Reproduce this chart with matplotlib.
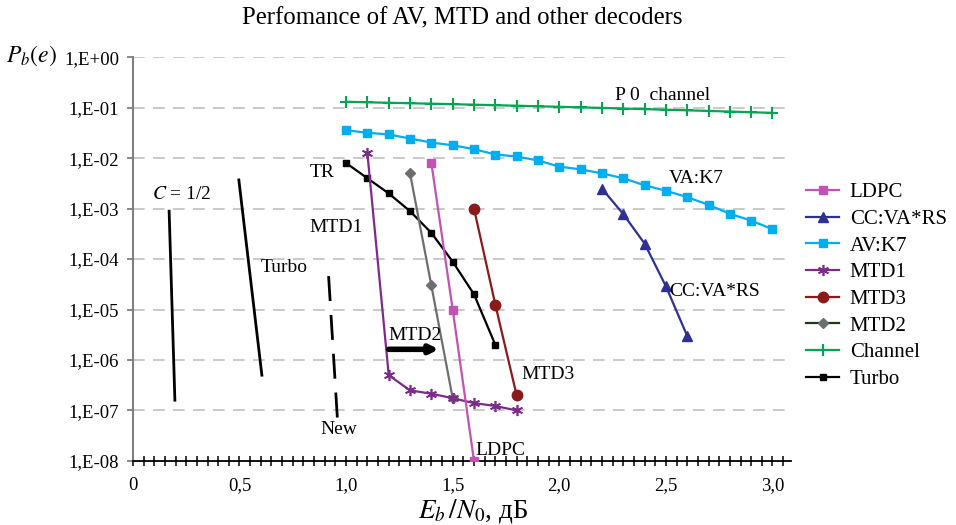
import numpy as np
import matplotlib
matplotlib.use('Agg')
import matplotlib.pyplot as plt
from matplotlib.lines import Line2D
from matplotlib.ticker import MultipleLocator, FixedLocator

#------------------------------------------------------------------------------------
# Dados das curvas (Eb/N0 em dB, probabilidade de erro de bit)
#------------------------------------------------------------------------------------
ebn0_full = [1.0, 1.1, 1.2, 1.3, 1.4, 1.5, 1.6, 1.7, 1.8, 1.9, 2.0,
             2.1, 2.2, 2.3, 2.4, 2.5, 2.6, 2.7, 2.8, 2.9, 3.0]
pb_channel = [0.131, 0.128, 0.125, 0.1226, 0.120, 0.1174, 0.1147, 0.112, 0.1094, 0.1067, 0.104,
              0.1015, 0.0989, 0.0963, 0.0937, 0.0912, 0.0887, 0.0862, 0.0838, 0.0813, 0.0789]
pb_av_k7 = [0.0358, 0.0318, 0.0295, 0.0245, 0.0204, 0.018, 0.0151, 0.0118, 0.0108, 0.009, 0.0068,
            0.006, 0.005, 0.004, 0.0029, 0.00226, 0.00169, 0.00119, 0.00079, 0.00058, 0.00039]

ebn0_cc = [2.2, 2.3, 2.4, 2.5, 2.6]
pb_cc = [2.5e-3, 7.8e-4, 2.03e-4, 2.9e-5, 3.0e-6]

ebn0_mtd3 = [1.6, 1.7, 1.8]
pb_mtd3 = [1.0e-3, 1.25e-5, 2.0e-7]

ebn0_mtd2 = [1.3, 1.4, 1.5]
pb_mtd2 = [5.0e-3, 3.0e-5, 1.75e-7]

ebn0_mtd1 = [1.1, 1.2, 1.3, 1.4, 1.5, 1.6, 1.7, 1.8]
pb_mtd1 = [1.24e-2, 5.0e-7, 2.5e-7, 2.15e-7, 1.75e-7, 1.4e-7, 1.23e-7, 1.0e-7]

ebn0_ldpc = [1.4, 1.5, 1.6]
pb_ldpc = [8.0e-3, 1.0e-5, 1.0e-8]

ebn0_turbo = [1.0, 1.1, 1.2, 1.3, 1.4, 1.5, 1.6, 1.7]
pb_turbo = [8.0e-3, 4.0e-3, 2.0e-3, 8.9e-4, 3.3e-4, 8.9e-5, 2.0e-5, 2.0e-6]

# Limites teoricos (retas sem marcadores)
ebn0_limit = [0.17, 0.197]
pb_limit = [8.9e-4, 1.6e-7]
ebn0_turbo_lim = [0.497, 0.605]
pb_turbo_lim = [3.7e-3, 5.0e-7]
ebn0_new = [0.918, 0.959]
pb_new = [4.6e-5, 7.2e-8]

xtick_vals = [0, 0.5, 1.0, 1.5, 2.0, 2.5, 3.0]
xtick_labels = ['0', '0,5', '1,0', '1,5', '2,0', '2,5', '3,0']
ytick_vals = [1e-8, 1e-7, 1e-6, 1e-5, 1e-4, 1e-3, 1e-2, 1e-1, 1e0]
ytick_labels = ['1,E-08', '1,E-07', '1,E-06', '1,E-05', '1,E-04', '1,E-03', '1,E-02', '1,E-01', '1,E+00']

#------------------------------------------------------------------------------------
# Definicoes para plots
#------------------------------------------------------------------------------------
plt.rcParams['font.family'] = ['Liberation Serif', 'DejaVu Serif']
plt.rcParams['mathtext.fontset'] = 'stix'

c_ldpc = '#c252b3'
c_cc = '#2e3192'
c_av = '#00aeef'
c_mtd1 = '#7d2b8b'
c_mtd3 = '#8b1a1a'
c_mtd2 = '#6d6e71'
c_chan = '#00a651'
c_turbo = '#000000'

fig = plt.figure(figsize=(9.56, 5.25), dpi=100)
ax = fig.add_axes([0.139, 0.122, 0.688, 0.769])
ax.set_yscale('log')
ax.set_xlim(0, 3.085)
ax.set_ylim(1e-8, 1e0)

# grade horizontal tracejada
for yv in ytick_vals[1:]:
    ax.axhline(yv, color='#c0c0c0', lw=1.2, dashes=(7, 5), zorder=0)

lw = 1.6
ax.plot(ebn0_full, pb_channel, color=c_chan, lw=lw, marker='+', ms=9, mew=1.5, label='Channel', zorder=3)
ax.plot(ebn0_full, pb_av_k7, color=c_av, lw=lw, marker='s', ms=6.2, label='AV:K7', zorder=3)
ax.plot(ebn0_cc, pb_cc, color=c_cc, lw=lw, marker='^', ms=6.5, label='CC:VA*RS', zorder=3)
ax.plot(ebn0_turbo, pb_turbo, color=c_turbo, lw=lw, marker='s', ms=4.5, label='Turbo', zorder=3)
ax.plot(ebn0_mtd2, pb_mtd2, color=c_mtd2, lw=lw, marker='D', ms=5.5, label='MTD2', zorder=3)
ax.plot(ebn0_ldpc, pb_ldpc, color=c_ldpc, lw=lw, marker='s', ms=5.5, label='LDPC', zorder=4)
ax.plot(ebn0_mtd3, pb_mtd3, color=c_mtd3, lw=lw, marker='o', ms=7.5, label='MTD3', zorder=3)
ax.plot(ebn0_mtd1, pb_mtd1, color=c_mtd1, lw=lw, marker=(6, 2, 0), ms=8, mew=1.2, label='MTD1', zorder=3)

ax.plot(ebn0_limit, pb_limit, color='k', lw=2.0, zorder=3)
ax.plot(ebn0_turbo_lim, pb_turbo_lim, color='k', lw=2.0, zorder=3)
ax.plot(ebn0_new, pb_new, color='k', lw=2.0, dashes=(9, 5), zorder=3)

# seta MTD2
ax.annotate('', xy=(1.435, 1.63e-6), xytext=(1.2, 1.63e-6),
            arrowprops=dict(arrowstyle='-|>', lw=4, color='k', mutation_scale=12,
                            shrinkA=0, shrinkB=0))

#------------------------------------------------------------------------------------
# Textos nas curvas
#------------------------------------------------------------------------------------
fs_note = 14
notes = [('TR', 0.886, -2.28), ('MTD1', 0.952, -3.37), ('Turbo', 0.708, -4.16),
         ('New', 0.966, -7.37), ('MTD2', 1.322, -5.52), ('LDPC', 1.723, -7.80),
         ('MTD3', 1.946, -6.28), ('CC:VA*RS', 2.729, -4.65), ('VA:K7', 2.644, -2.40),
         ('P 0  channel', 2.485, -0.75)]
for txt, xx, ly in notes:
    ax.text(xx, 10 ** ly, txt, fontsize=fs_note, ha='center', va='center', zorder=5)
ax.text(0.23, 10 ** -2.73, r'$C$ = 1/2', fontsize=fs_note, ha='center', va='center')

#------------------------------------------------------------------------------------
# Eixos
#------------------------------------------------------------------------------------
ax.spines['top'].set_visible(False)
ax.spines['right'].set_visible(False)
ax.spines['left'].set_color('#7f7f7f')
ax.spines['left'].set_linewidth(1.5)
ax.spines['bottom'].set_linewidth(1.3)

ax.xaxis.set_major_locator(FixedLocator(xtick_vals))
ax.set_xticklabels(xtick_labels, fontsize=13.5)
ax.xaxis.set_minor_locator(MultipleLocator(0.05))
ax.tick_params(axis='x', which='both', direction='inout', length=7, width=1.1, color='k', pad=8)

ax.yaxis.set_major_locator(FixedLocator(ytick_vals))
ax.set_yticklabels(ytick_labels, fontsize=13.5)
ax.yaxis.set_minor_locator(FixedLocator([]))
ax.tick_params(axis='y', which='major', direction='out', length=4, width=1.3, color='#7f7f7f', pad=6)

fig.text(0.484, 0.965, 'Perfomance of AV, MTD and other decoders', fontsize=17.8,
         ha='center', va='center')
fig.text(0.033, 0.893, r'$P_b(e)$', fontsize=17, ha='center', va='center')
fig.text(0.495, 0.027, r'$E_b\,/N_0$' + ', дБ', fontsize=19.5, ha='center', va='center')

#------------------------------------------------------------------------------------
# Legenda
#------------------------------------------------------------------------------------
handles, labels = ax.get_legend_handles_labels()
by_label = dict(zip(labels, handles))
by_label['MTD2'] = Line2D([], [], color='#1e3a1e', lw=lw, marker='D', ms=5.5,
                          mfc=c_mtd2, mec=c_mtd2)
order = ['LDPC', 'CC:VA*RS', 'AV:K7', 'MTD1', 'MTD3', 'MTD2', 'Channel', 'Turbo']
fig.legend([by_label[k] for k in order], order, loc='upper left',
           bbox_to_anchor=(0.843, 0.652), frameon=False, fontsize=15,
           handlelength=1.6, handletextpad=0.5, labelspacing=0.34, borderaxespad=0,
           borderpad=0)

fig.savefig('out.png', dpi=100)
plt.close('all')
